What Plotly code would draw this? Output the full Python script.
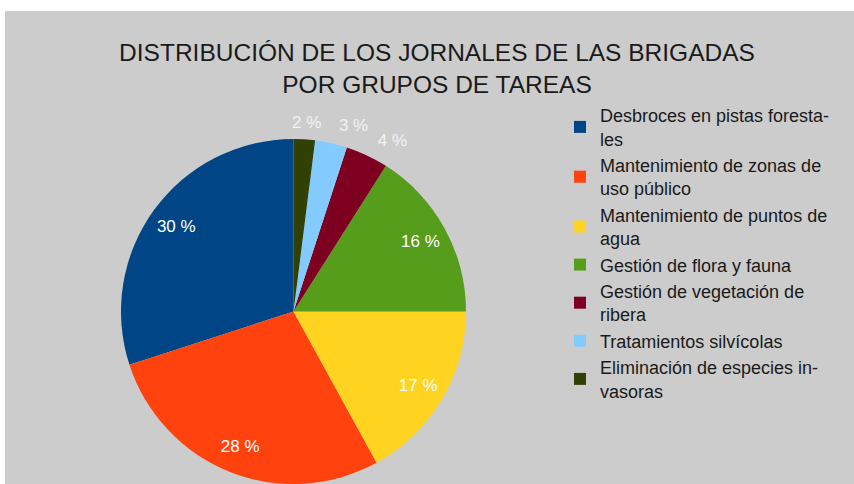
import plotly.graph_objects as go

labels = [
    "Desbroces en pistas foresta-<br>les",
    "Mantenimiento de zonas de<br>uso público",
    "Mantenimiento de puntos de<br>agua",
    "Gestión de flora y fauna",
    "Gestión de vegetación de<br>ribera",
    "Tratamientos silvícolas",
    "Eliminación de especies in-<br>vasoras",
]
values = [30, 28, 17, 16, 4, 3, 2]
colors = ["#004586", "#ff420e", "#ffd320", "#579d1c", "#7e0021", "#83caff", "#314004"]
inside_label = [True, True, True, True, False, False, False]
# small nudges (px: right, up) for the outside labels of the thin slices
label_nudge = {4: (6, 7), 5: (3, 9), 6: (-17, 7)}

W, H = 854, 484
PIE_X = [120 / W, 467 / W]
PIE_Y = [0, 1 - 139 / H]
CLEAR = ["rgba(0,0,0,0)"] * len(values)
common = dict(
    labels=labels,
    values=values,
    sort=False,
    direction="counterclockwise",
    rotation=-108,
    texttemplate="%{value} %",
)

fig = go.Figure()

# main visible pie
fig.add_trace(
    go.Pie(
        **common,
        domain=dict(x=PIE_X, y=PIE_Y),
        marker=dict(colors=colors, line=dict(width=0)),
        textposition="none",
        hoverinfo="label+percent",
        showlegend=True,
    )
)

# inside percentage labels (placed near the rim)
fig.add_trace(
    go.Pie(
        **common,
        domain=dict(x=PIE_X, y=PIE_Y),
        hole=0.68,
        marker=dict(colors=CLEAR, line=dict(width=0)),
        textposition=["inside" if v else "none" for v in inside_label],
        insidetextorientation="horizontal",
        textfont=dict(color="white", size=17, family="Liberation Sans"),
        hoverinfo="skip",
        showlegend=False,
    )
)

# outside labels for the thin slices, one trace each so they keep their own spot
for i, v in enumerate(inside_label):
    if v:
        continue
    dx, dy = label_nudge.get(i, (0, 0))
    fig.add_trace(
        go.Pie(
            **common,
            domain=dict(
                x=[PIE_X[0] + dx / W, PIE_X[1] + dx / W],
                y=[PIE_Y[0] + dy / H, PIE_Y[1] + dy / H],
            ),
            marker=dict(colors=CLEAR, line=dict(width=0)),
            textposition=["outside" if j == i else "none" for j in range(len(values))],
            outsidetextfont=dict(color="#f2f2f2", size=17, family="Liberation Sans"),
            hoverinfo="skip",
            showlegend=False,
        )
    )

fig.update_layout(
    width=W,
    height=H,
    autosize=False,
    paper_bgcolor="white",
    margin=dict(l=0, r=0, t=0, b=0, autoexpand=False),
    font=dict(family="Liberation Sans", color="#1a1a1a"),
    title=dict(
        text="DISTRIBUCIÓN DE LOS JORNALES DE LAS BRIGADAS<br>POR GRUPOS DE TAREAS",
        x=437 / W,
        xanchor="center",
        y=1 - 61 / H,
        yanchor="top",
        yref="container",
        font=dict(size=24.5, family="Liberation Sans", color="#1a1a1a"),
    ),
    legend=dict(
        x=560 / W,
        xanchor="left",
        y=1 - 97 / H,
        yanchor="top",
        bgcolor="rgba(0,0,0,0)",
        font=dict(size=18, family="Liberation Sans", color="#1a1a1a"),
        tracegroupgap=0,
        itemclick=False,
    ),
    shapes=[
        dict(
            type="rect",
            xref="paper",
            yref="paper",
            x0=5 / W,
            x1=1,
            y0=0,
            y1=1 - 11 / H,
            fillcolor="#cccccc",
            line=dict(width=0),
            layer="below",
        )
    ],
)

fig.write_html(
    "out.html",
    config={"displayModeBar": False},
    post_script="document.body.style.margin='0';",
)
